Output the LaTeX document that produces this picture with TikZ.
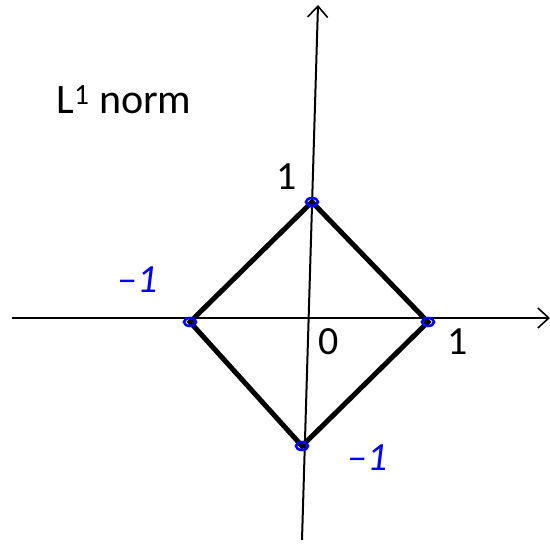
\documentclass[tikz,border=0pt]{standalone}
\usepackage{fontspec}
\setmainfont{Carlito}
\usetikzlibrary{arrows.meta,shapes.geometric}
\begin{document}
\begin{tikzpicture}[x=1pt,y=-1pt,
  axis/.style={line width=2pt,-{Straight Barb[length=11pt,width=20pt,line width=1.6pt]}},
  edge/.style={line width=5pt},
  vmark/.style={draw=blue,line width=2.6pt,ellipse,minimum width=12pt,minimum height=8pt,inner sep=0pt},
  lbl/.style={font=\fontsize{40}{44}\selectfont},
  hand/.style={text=blue,font=\fontsize{40}{44}\selectfont\itshape}]
\useasboundingbox (0,0) rectangle (550,545);
\coordinate (xl) at (12,318);
\coordinate (xr) at (550,318);
\coordinate (yb) at (302,540);
\coordinate (yt) at (318,5);
\draw[axis] (xl) -- (xr);
\draw[axis] (yb) -- (yt);
\coordinate (T) at (312,202);
\coordinate (R) at (428,322);
\coordinate (B) at (302,446);
\coordinate (L) at (190,322);
\draw[edge,line join=miter] (T) -- (R) -- (B) -- (L) -- cycle;
\node[vmark] (mT) at (T) {};
\node[vmark] (mR) at (R) {};
\node[vmark] (mB) at (B) {};
\node[vmark] (mL) at (L) {};
\node[lbl] (one1) at (287,177) {1};
\node[lbl] (zero) at (329,342) {0};
\node[lbl] (one2) at (458,342) {1};
\node[lbl,anchor=west,font=\fontsize{42}{46}\selectfont] (title) at (53,100) {L\textsuperscript{1} norm};
\node[hand] (m1) at (138,280) {–1};
\node[hand] (m2) at (368,458) {–1};
\end{tikzpicture}
\end{document}
